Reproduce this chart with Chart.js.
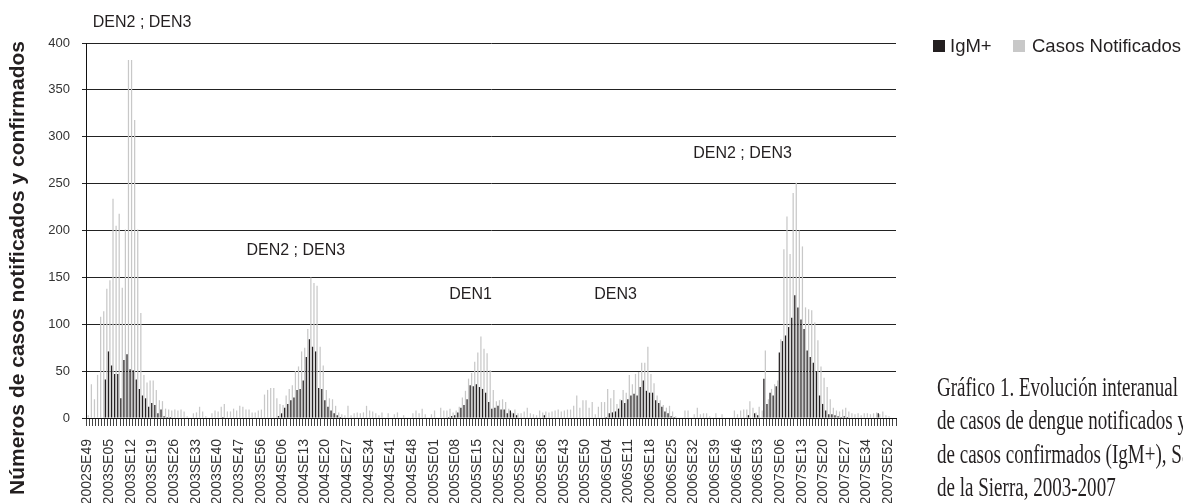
<!DOCTYPE html>
<html><head><meta charset="utf-8">
<script src="https://cdn.jsdelivr.net/npm/chart.js@4.4.1/dist/chart.umd.min.js"></script>
<style>
html,body{margin:0;padding:0;background:#fff;overflow:hidden;width:1183px;height:503px;}
#wrap{position:relative;width:1183px;height:503px;overflow:hidden;}
#c{position:absolute;left:0;top:0;}
.sw{position:absolute;width:12px;height:12px;}
.lt{position:absolute;font:18.5px "Liberation Sans",Arial,sans-serif;line-height:18.5px;color:#231f20;white-space:nowrap;}
.cap{position:absolute;left:937px;font-family:"Liberation Serif","Times New Roman",serif;font-size:27px;line-height:27px;color:#231f20;white-space:nowrap;transform-origin:0 0;transform:scaleX(0.705);}
</style></head>
<body><div id="wrap">
<canvas id="c" width="1183" height="503"></canvas>
<div class="sw" style="left:933px;top:40px;background:#231f20"></div>
<div class="lt" style="left:950px;top:37px">IgM+</div>
<div class="sw" style="left:1013px;top:40px;background:#c8c8c8"></div>
<div class="lt" style="left:1032px;top:37px">Casos Notificados</div>
<div class="cap" style="top:374px">Gráfico 1. Evolución interanual</div>
<div class="cap" style="top:407px">de casos de dengue notificados y</div>
<div class="cap" style="top:441px">de casos confirmados (IgM+), Santa Cruz</div>
<div class="cap" style="top:474px">de la Sierra, 2003-2007</div>
</div>
<script>
const tickLabels = ["2002SE49","2003SE05","2003SE12","2003SE19","2003SE26","2003SE33","2003SE40","2003SE47","2003SE56","2004SE06","2004SE13","2004SE20","2004SE27","2004SE34","2004SE41","2004SE48","2005SE01","2005SE08","2005SE15","2005SE22","2005SE29","2005SE36","2005SE43","2005SE50","2006SE04","2006SE11","2006SE18","2006SE25","2006SE32","2006SE39","2006SE46","2006SE53","2007SE06","2007SE13","2007SE20","2007SE27","2007SE34","2007SE52"];

const casosNotificados = [3,36,20,46,108,114,138,147,234,205,
 218,139,201,382,382,318,201,112,46,38,
 40,40,30,19,18,10,9,8,9,8,
 9,7,2,0,5,6,12,7,2,0,
 5,8,7,12,15,7,7,10,8,13,
 12,9,9,6,6,8,9,25,30,32,
 32,21,15,14,24,31,35,50,55,71,
 75,95,150,144,141,76,56,30,21,20,
 13,6,4,3,13,3,5,6,5,6,
 13,8,7,5,3,6,0,5,0,4,
 6,0,3,0,0,5,8,5,10,4,
 0,4,8,0,11,8,8,10,6,8,
 12,22,29,42,48,60,70,87,74,69,
 51,30,18,19,20,17,10,6,9,5,
 5,7,11,5,4,3,8,6,7,6,
 7,8,9,7,8,9,9,13,24,11,
 19,19,11,17,4,12,17,17,31,21,
 30,15,20,30,27,46,36,47,49,59,
 59,76,47,37,24,19,14,11,13,7,
 2,0,0,8,8,0,4,11,4,5,
 5,2,0,5,0,4,0,0,0,8,
 4,8,9,9,18,11,6,12,8,72,
 20,31,36,40,84,180,215,175,240,251,
 200,183,118,116,115,102,83,55,43,33,
 20,11,8,7,9,11,7,5,4,5,
 3,5,5,4,5,6,4,7,3,2,
 0,0];

const igmPositivos = [0,0,0,0,0,0,41,71,56,47,
 47,21,62,68,52,51,41,31,24,21,
 12,16,14,5,9,2,1,1,0,0,
 0,0,0,0,0,0,0,0,0,0,
 0,0,0,0,1,0,0,0,0,0,
 0,0,0,0,0,0,0,0,0,0,
 0,0,2,5,11,15,19,22,30,31,
 40,65,84,76,71,32,31,19,12,8,
 5,3,1,0,0,0,0,0,0,0,
 0,0,0,0,0,0,0,0,0,0,
 0,0,0,0,0,0,0,0,0,0,
 0,0,0,0,0,0,0,1,2,3,
 6,11,14,20,35,34,36,33,31,27,
 17,10,11,13,9,9,5,8,5,3,
 0,0,0,0,0,0,0,0,3,0,
 0,0,0,0,0,0,0,0,0,0,
 0,0,0,0,0,0,0,0,1,5,
 6,7,10,19,16,20,24,26,24,33,
 40,29,27,27,19,16,12,7,5,2,
 1,0,0,0,0,0,0,0,0,0,
 0,0,0,0,0,0,0,0,0,0,
 0,0,0,0,3,0,5,3,0,42,
 15,27,24,34,70,82,88,97,107,131,
 118,105,95,72,65,59,50,24,15,8,
 4,4,3,2,1,2,1,0,0,0,
 0,0,0,0,0,0,5,0,0,0,
 0,0];

const labelEvery = 7;
const categories = casosNotificados.map((_, i) => (i % labelEvery === 0 && tickLabels[i / labelEvery]) ? tickLabels[i / labelEvery] : "");

const serotypeNotes = [
  {text: "DEN2 ; DEN3", k: 1.7, v: 417},
  {text: "DEN2 ; DEN3", k: 51.4, v: 173.5},
  {text: "DEN1", k: 117, v: 126.6},
  {text: "DEN3", k: 163.9, v: 126.6},
  {text: "DEN2 ; DEN3", k: 195.9, v: 277}
];
const yTitle = "Números de casos notificados y confirmados";

const notesPlugin = {
  id: 'notes',
  afterDraw(chart) {
    const {ctx, scales: {x, y}} = chart;
    ctx.save();
    ctx.fillStyle = '#231f20';
    ctx.font = '16px "Liberation Sans", Arial, sans-serif';
    ctx.textAlign = 'left';
    ctx.textBaseline = 'alphabetic';
    serotypeNotes.forEach(a => ctx.fillText(a.text, x.getPixelForValue(a.k), y.getPixelForValue(a.v)));
    ctx.translate(18, 268);
    ctx.rotate(-Math.PI / 2);
    ctx.font = 'bold 21px "Liberation Sans", Arial, sans-serif';
    ctx.textAlign = 'center';
    ctx.textBaseline = 'middle';
    ctx.fillText(yTitle, 0, 0);
    ctx.restore();
  }
};

new Chart(document.getElementById('c'), {
  type: 'bar',
  data: {
    labels: categories,
    datasets: [
      {label: 'IgM+', data: igmPositivos, backgroundColor: '#231f20', barPercentage: 0.85, categoryPercentage: 0.95},
      {label: 'Casos Notificados', data: casosNotificados, backgroundColor: '#c8c8c8', barPercentage: 0.85, categoryPercentage: 0.95}
    ]
  },
  options: {
    responsive: false,
    animation: false,
    devicePixelRatio: 1,
    layout: {padding: {left: 0, right: 287, top: 43, bottom: 0}},
    plugins: {legend: {display: false}, tooltip: {enabled: false}},
    scales: {
      x: {
        grid: {display: true, drawOnChartArea: false, drawTicks: true, tickLength: 8, color: '#444', lineWidth: 1, offset: true},
        border: {display: true, color: '#111', width: 1},
        ticks: {autoSkip: false, maxRotation: 90, minRotation: 90, padding: 13, color: '#333',
                font: {family: '"Liberation Sans", Arial, sans-serif', size: 14},
                callback: (v, i) => categories[i]},
        afterFit: s => { s.height = 85; }
      },
      y: {
        min: 0, max: 400,
        ticks: {stepSize: 50, padding: 12, color: '#333', font: {family: '"Liberation Sans", Arial, sans-serif', size: 13}},
        grid: {color: '#222', lineWidth: 1, tickLength: 4},
        border: {display: true, color: '#111', width: 1},
        afterFit: s => { s.width = 86; }
      }
    }
  },
  plugins: [notesPlugin]
});
</script>
</body></html>
